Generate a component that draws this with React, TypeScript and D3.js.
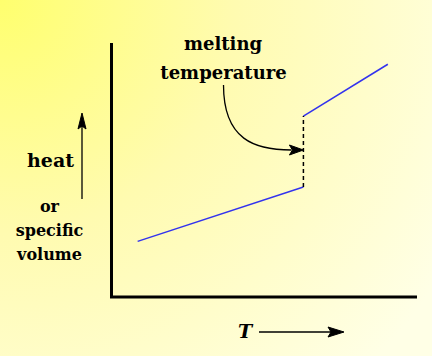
import React from "react";
import * as d3 from "d3";

const W = 432;
const H = 356;

// Data (arbitrary units: T on x, heat / specific volume on y)
const solidT = [0.9, 6.3];
const solidV = [2.2, 4.35];
const liquidT = [6.3, 9.05];
const liquidV = [7.15, 9.2];
const meltT = 6.3;
const annotationLabel = ["melting", "temperature"];
const yLabelLines = ["or", "specific", "volume"];

export default function App() {
  const x = d3.scaleLinear().domain([0, 10]).range([110, 417]);
  const y = d3.scaleLinear().domain([0, 10]).range([297, 44]);

  const line = d3
    .line<[number, number]>()
    .x((d) => x(d[0]))
    .y((d) => y(d[1]));

  const solid: [number, number][] = solidT.map((t, i) => [t, solidV[i]]);
  const liquid: [number, number][] = liquidT.map((t, i) => [t, liquidV[i]]);
  const jump: [number, number][] = [
    [meltT, solidV[1]],
    [meltT, liquidV[0]],
  ];

  const mx = x(meltT);
  const ay = 150;
  const font = "'DejaVu Serif', 'Liberation Serif', serif";

  return (
    <svg
      width={W}
      height={H}
      style={{ position: "absolute", left: 0, top: 0 }}
    >
      <defs>
        <radialGradient
          id="bg"
          cx="0"
          cy="0"
          r="520"
          gradientUnits="userSpaceOnUse"
        >
          <stop offset="0" stopColor="#ffff6e" />
          <stop offset="0.45" stopColor="#fffbb0" />
          <stop offset="1" stopColor="#ffffe6" />
        </radialGradient>
      </defs>
      <rect width={W} height={H} fill="url(#bg)" />

      {/* axes */}
      <path
        d={`M${x(0) + 1.5},${y(10) - 1}V${y(0)}H${x(10)}`}
        fill="none"
        stroke="#000"
        strokeWidth={3}
      />

      {/* data lines */}
      <path d={line(solid) || ""} fill="none" stroke="#3333ee" strokeWidth={1.5} />
      <path d={line(liquid) || ""} fill="none" stroke="#3333ee" strokeWidth={1.5} />
      <path
        d={line(jump) || ""}
        fill="none"
        stroke="#000"
        strokeWidth={1.5}
        strokeDasharray="4,3"
      />

      {/* annotation */}
      <text
        x={223}
        y={50}
        textAnchor="middle"
        fontFamily={font}
        fontWeight="bold"
        fontSize={18}
      >
        {annotationLabel[0]}
      </text>
      <text
        x={223.5}
        y={79}
        textAnchor="middle"
        fontFamily={font}
        fontWeight="bold"
        fontSize={18}
      >
        {annotationLabel[1]}
      </text>
      <path
        d={`M223.5,85 C223.5,140 255,${ay} ${mx - 12},${ay}`}
        fill="none"
        stroke="#000"
        strokeWidth={1.3}
      />
      <path
        d={`M${mx},${ay} L${mx - 14},${ay - 5} L${mx - 11},${ay} L${mx - 14},${ay + 5} Z`}
        fill="#000"
        stroke="#000"
        strokeWidth={1}
      />

      {/* y label */}
      <line x1={82} x2={82} y1={199} y2={118} stroke="#000" strokeWidth={1.3} />
      <path d="M82,113 L78,129 L82,126 L86,129 Z" fill="#000" stroke="#000" strokeWidth={1} />
      <text
        x={50.5}
        y={167}
        textAnchor="middle"
        fontFamily={font}
        fontWeight="bold"
        fontSize={19}
      >
        heat
      </text>
      {yLabelLines.map((s, i) => (
        <text
          key={s}
          x={49.5}
          y={212 + i * 24}
          textAnchor="middle"
          fontFamily={font}
          fontWeight="bold"
          fontSize={16}
        >
          {s}
        </text>
      ))}

      {/* x label */}
      <text
        x={245}
        y={338}
        textAnchor="middle"
        fontFamily={font}
        fontWeight="bold"
        fontStyle="italic"
        fontSize={19}
      >
        T
      </text>
      <line x1={259} x2={333} y1={332} y2={332} stroke="#000" strokeWidth={1.3} />
      <path d="M344,332 L328,327 L331,332 L328,337 Z" fill="#000" stroke="#000" strokeWidth={1} />
    </svg>
  );
}
